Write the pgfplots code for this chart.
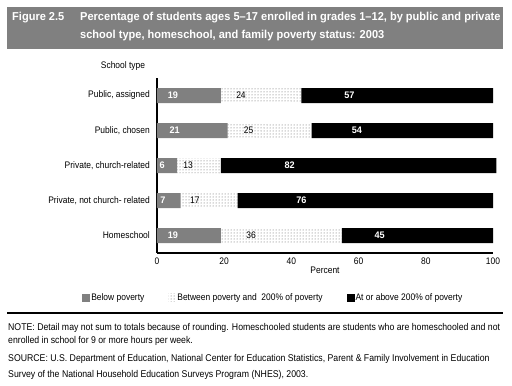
\documentclass[border=0pt]{standalone}
\usepackage{pgfplots}
\usepackage{pgfplotstable}
\pgfplotsset{compat=1.18}
\usepackage{fontspec}
\setmainfont[FakeStretch=0.89, BoldFeatures={FakeStretch=0.96}]{Liberation Sans}
\usetikzlibrary{patterns}
\definecolor{figgray}{RGB}{128,128,128}
% cat: 4 = Public, assigned ... 0 = Homeschool
\pgfplotstableread{
cat below between above
4   19    24      57
3   21    25      54
2   6     13      82
1   7     17      76
0   19    36      45
}\schooldata
\begin{document}
\begin{tikzpicture}[x=1pt,y=1pt]
\path[use as bounding box] (0,0) rectangle (512,386);
% title box
\fill[figgray] (7,337) rectangle (503,379);
\node[anchor=base west, text=white, font=\fontsize{11.5}{14}\selectfont\bfseries, inner sep=0pt] at (12,365) {Figure 2.5};
\node[anchor=base west, text=white, font=\fontsize{11.5}{14}\selectfont\bfseries, inner sep=0pt] at (80,365) {Percentage of students ages 5--17 enrolled in grades 1--12, by public and private};
\node[anchor=base west, text=white, font=\fontsize{11.5}{14}\selectfont\bfseries, inner sep=0pt] at (80,347) {school type, homeschool, and family poverty status: 2003};
% school type
\node[font=\fontsize{9.5}{11}\selectfont, inner sep=0pt] at (123,320) {School type};
\begin{axis}[
  at={(157pt,133pt)}, anchor=south west,
  scale only axis, width=336pt, height=175pt,
  xbar stacked, bar width=15pt,
  xmin=0, xmax=100, ymin=-0.5, ymax=4.5,
  clip=false,
  xtick={0,20,40,60,80,100},
  ytick={0,1,2,3,4},
  yticklabels={Homeschool, {Private, not church- related}, {Private, church-related}, {Public, chosen}, {Public, assigned}},
  axis x line*=bottom, axis y line*=left,
  x axis line style={line width=1.2pt, -},
  y axis line style={line width=1.8pt, -},
  major tick length=0pt,
  tick label style={font=\fontsize{9.5}{11}\selectfont},
  /pgf/number format/assume math mode=true,
  xticklabel style={inner sep=0pt, yshift=-5pt},
  yticklabel style={inner sep=0pt, xshift=-7pt},
  xlabel={Percent},
  xlabel style={font=\fontsize{9.5}{11}\selectfont, at={(axis description cs:0.5,0)}, anchor=north, inner sep=0pt, yshift=-14pt},
  nodes near coords, point meta=rawx,
  legend columns=3,
  legend image code/.code={\fill[#1] (0pt,-4pt) rectangle (8pt,4pt);},
  legend style={draw=none, fill=none, inner sep=0pt, at={(-0.223,-0.257)}, anchor=west,
    font=\fontsize{9.5}{11}\selectfont, nodes={inner sep=1pt},
    /tikz/every even column/.append style={column sep=23pt}},
]
% the centring shift is applied twice by pgfplots, hence /4 for a half-segment shift
\addplot[fill=figgray, draw=none, visualization depends on={\thisrow{below} \as \segval},
  every node near coord/.append style={anchor=center, shift={(axis direction cs:-\segval/4,0)}, text=white, font=\fontsize{9.5}{11}\selectfont\bfseries}]
  table[x=below, y=cat] {\schooldata};
\addplot[pattern=dots, pattern color=black!65, draw=none, visualization depends on={\thisrow{between} \as \segval},
  every node near coord/.append style={anchor=center, shift={(axis direction cs:-\segval/4,0)}, text=black, font=\fontsize{9.5}{11}\selectfont}]
  table[x=between, y=cat] {\schooldata};
\addplot[fill=black, draw=none, visualization depends on={\thisrow{above} \as \segval},
  every node near coord/.append style={anchor=center, shift={(axis direction cs:-\segval/4,0)}, text=white, font=\fontsize{9.5}{11}\selectfont\bfseries}]
  table[x=above, y=cat] {\schooldata};
\legend{Below poverty, Between poverty and\ \ 200\% of poverty, At or above 200\% of poverty}
\end{axis}
% rule
\draw[line width=1.8pt] (7,73) -- (503,73);
% notes
\node[anchor=base west, font=\fontsize{9.8}{12}\selectfont, inner sep=0pt] at (8,56) {NOTE: Detail may not sum to totals because of rounding. Homeschooled students are students who are homeschooled and not};
\node[anchor=base west, font=\fontsize{9.8}{12}\selectfont, inner sep=0pt] at (8,42) {enrolled in school for 9 or more hours per week.};
\node[anchor=base west, font=\fontsize{9.8}{12}\selectfont, inner sep=0pt] at (8,24) {SOURCE: U.S. Department of Education, National Center for Education Statistics, Parent \& Family Involvement in Education};
\node[anchor=base west, font=\fontsize{9.8}{12}\selectfont, inner sep=0pt] at (8,9) {Survey of the National Household Education Surveys Program (NHES), 2003.};
\end{tikzpicture}
\end{document}
